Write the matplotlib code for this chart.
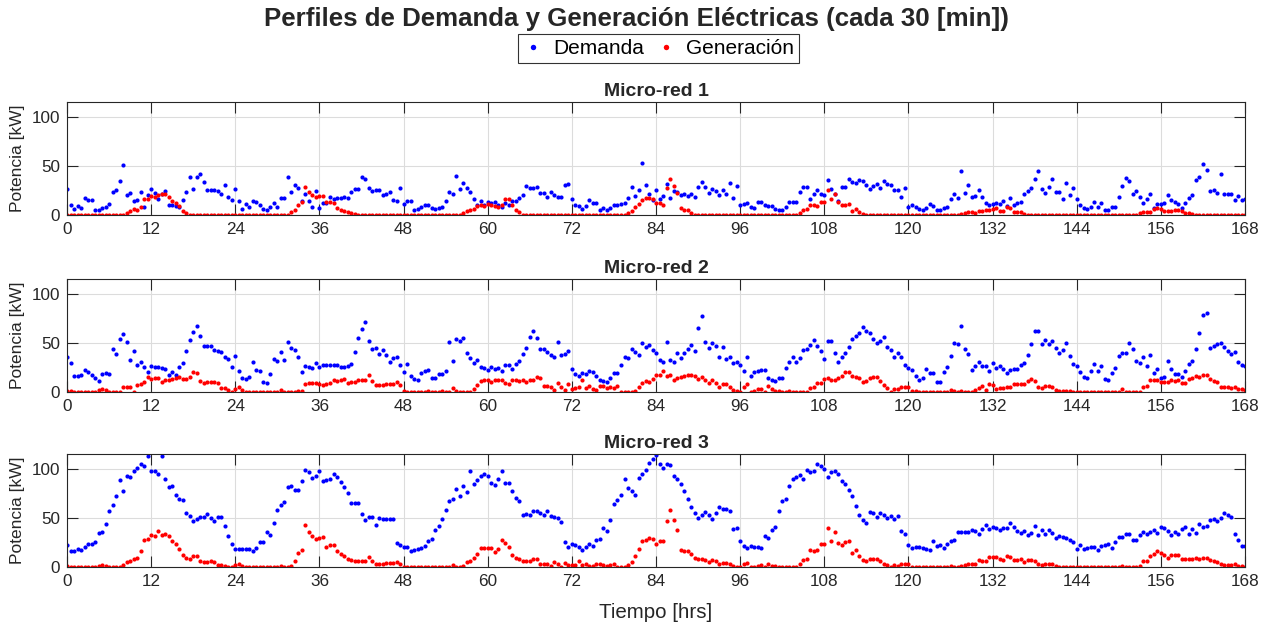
import numpy as np
import matplotlib
matplotlib.use("Agg")
import matplotlib.pyplot as plt

# perfiles cada 30 min, 0 .. 168 hrs
# micro-red 1
dem_1 = [27, 10, 6.5, 9.6, 7, 17, 15, 15, 5, 5, 7, 8, 11, 23, 26, 35, 51, 20, 22, 14, 15, 23, 8.5, 20,
         27, 22, 16, 21, 25, 10, 10, 9, 8, 15, 23, 39, 27, 39, 42, 34, 26, 26, 26, 25, 21, 31, 18, 15,
         27, 14, 6, 11, 8, 14, 13, 10, 6, 5, 8, 12, 8, 17, 17, 39, 24, 31, 28, 14, 21, 14, 8, 25,
         7, 12, 12, 18, 16, 17, 17, 18, 17, 23, 27, 27, 39, 37, 28, 25, 26, 26, 20, 21, 23, 15, 14, 28,
         11, 14, 14, 5.5, 6.5, 8, 10, 10, 7.5, 6.5, 7.5, 8.5, 14, 24, 21, 40, 27, 33, 28, 24, 16, 10, 14, 10,
         13, 12, 13, 10, 8, 12, 10, 14, 14, 17, 20, 30, 28, 28, 29, 22, 22, 18, 23, 20, 18.5, 18, 31, 32,
         16, 10.6, 9, 6.5, 9, 15, 12, 12, 5, 7, 5, 7, 10, 10, 11, 12, 17, 29, 19.5, 26, 53, 31, 21, 15,
         26, 16, 19, 32, 17, 25, 24, 20, 21.5, 19, 21.5, 18.5, 29, 33.5, 29, 22.6, 27, 25, 20.5, 26, 21, 33, 17, 29.5,
         10, 11.6, 12, 8, 7, 13, 13, 10, 9, 9.6, 6, 5, 5, 8, 13, 13, 13, 23, 29, 28.4, 16, 21, 26, 21,
         20.5, 36, 27, 21, 14, 28.4, 28.4, 37, 34, 32.5, 36, 35, 30.5, 26.7, 30, 32, 27.4, 34.6, 32, 30.5, 25.7, 26, 18, 27.4,
         8, 10, 8, 6, 5, 7.5, 11.6, 9.6, 5, 5, 7.5, 8.5, 16, 21.6, 17, 45, 22, 30.5, 18, 19, 26, 18.5, 12, 10.6,
         11.6, 12.7, 11.6, 14, 9, 17, 10.6, 12, 13, 21, 25, 28, 37, 45, 27, 22, 28.4, 37, 23, 23, 16, 33, 20, 27.4,
         16, 10, 7, 6.5, 8, 13, 8.5, 12.7, 5, 5, 8, 8, 18, 30, 38, 35, 21.6, 25, 18, 12.7, 16.4, 21, 7.5, 11,
         11, 12, 20, 15, 13, 11, 7.5, 12.7, 17, 20, 36, 38.7, 51.7, 46, 24.7, 25.3, 22, 42, 21.6, 21.6, 21.6, 15, 19, 15.8, 16]
gen_1 = [0, 0, 0, 0, 0, 0, 0, 0, 0, 0, 0, 0, 0, 0, 0, 0, 0, 2, 4, 6.5, 5, 8.5, 16, 16,
         19.5, 18, 20.5, 21, 21, 18.5, 14, 12, 9, 4, 2, 0, 0, 0, 0, 0, 0, 0, 0, 0, 0, 0, 0, 0,
         0, 0, 0, 0, 0, 0, 0, 0, 0, 0, 0, 0, 0, 0, 0, 0, 3, 5, 10, 13, 29, 23, 20, 18,
         19.5, 19.5, 13, 13, 12, 7, 5, 4, 3, 2, 1, 0, 0, 0, 0, 0, 0, 0, 0, 0, 0, 0, 0, 0,
         0, 0, 0, 0, 0, 0, 0, 0, 0, 0, 0, 0, 0, 0, 0, 0, 0, 2, 4.5, 5.5, 6.5, 9, 10.6, 9,
         11, 10, 9, 8, 10, 16, 16, 10, 5, 3, 0, 0, 0, 0, 0, 0, 0, 0, 0, 0, 0, 0, 0, 0,
         0, 0, 0, 0, 0, 0, 0, 0, 0, 0, 0, 0, 0, 0, 0, 0, 2, 4.5, 8, 11, 15.5, 17, 17.5, 16,
         12, 12, 10, 28, 37, 30, 22.6, 7, 5, 5, 2, 0, 0, 0, 0, 0, 0, 0, 0, 0, 0, 0, 0, 0,
         0, 0, 0, 0, 0, 0, 0, 0, 0, 0, 0, 0, 0, 0, 0, 0, 0, 2.4, 5.5, 6, 10.6, 10, 9, 13,
         13, 26, 16, 21, 13, 10, 10, 11, 4, 6, 3, 1, 0, 0, 0, 0, 0, 0, 0, 0, 0, 0, 0, 0,
         0, 0, 0, 0, 0, 0, 0, 0, 0, 0, 0, 0, 0, 0, 0, 1, 2, 3, 3, 2, 4, 4, 5, 5,
         6, 7, 4.5, 4, 8, 7, 3, 3, 3.5, 1.4, 0, 0, 0, 0, 0, 0, 0, 0, 0, 0, 0, 0, 0, 0,
         0, 0, 0, 0, 0, 0, 0, 0, 0, 0, 0, 0, 0, 0, 0, 0, 0, 0, 1.7, 3, 3, 3.5, 6, 7,
         6.5, 4.5, 4, 4.5, 5, 5, 4.5, 2, 1.7, 0.7, 0, 0, 0, 0, 0, 0, 0, 0, 0, 0, 0, 0, 0, 0, 0]

# micro-red 2
dem_2 = [35.5, 29.7, 16.4, 16.7, 17.7, 22, 20.5, 17.4, 14.3, 11.6, 18.8, 19.5, 18.8, 43.7, 38.6, 54, 59.7, 50.7, 32.4, 42.3, 28, 31, 25.3, 20,
         27, 26, 26, 25, 24, 17.7, 20.5, 17.4, 25.6, 30, 41.6, 53.6, 61.8, 67, 57.3, 46.8, 46.8, 46.8, 42.7, 42.3, 41.3, 36.2, 33.8, 26,
         36.5, 21.8, 14, 13.7, 15, 30.4, 22.5, 21.5, 10, 9.6, 18.8, 34, 31.4, 40.6, 32.8, 51.5, 45.4, 43, 35.5, 20.8, 27, 26, 24.6, 29.7,
         26, 27.6, 27.6, 27.6, 27.6, 27.6, 25.6, 25.6, 26.3, 28.3, 40.6, 55.6, 64, 72, 52.6, 44.4, 44.7, 39, 43, 37.5, 30.4, 35, 36.2, 27.6,
         20.5, 29, 16.7, 13.6, 12, 19, 21.8, 22, 14, 14, 18, 18.8, 21, 51, 31.4, 54, 52, 55.6, 40, 35, 29.4, 32.8, 26, 25,
         23, 26, 24, 25, 21, 27.6, 27.6, 23.5, 29, 32, 39, 45.4, 56, 62.5, 55.3, 44.4, 44, 41.3, 37.5, 36.2, 51, 38, 39, 41.6,
         23.5, 18, 16.7, 19, 18.4, 21.8, 20, 16, 12, 11.6, 10, 14.7, 19.8, 19.8, 27.6, 35.8, 34.5, 44, 41, 38, 50.5, 45.7, 48.5, 43,
         40.3, 32.4, 30.7, 51.5, 33, 30.4, 40, 35, 40.3, 44.4, 48.5, 42.3, 65, 78, 51, 44.7, 50, 47, 36.2, 45.7, 34, 36.2, 29.4, 30.7,
         27.6, 21.5, 35.5, 16.4, 20, 21.8, 22.8, 22.5, 14.7, 12, 11.3, 14.7, 14.7, 24.6, 30.7, 35.8, 30.4, 34.5, 43, 44.4, 47.8, 53, 46.8, 42,
         34, 52, 52, 40, 31, 35.5, 39.6, 45.7, 54, 57.7, 60.8, 66, 62.8, 60.8, 54, 50.5, 52.6, 56, 46, 42.7, 36.2, 40.3, 35.5, 27.3,
         24.2, 22.5, 16, 12.6, 14, 23.5, 19.8, 19.8, 10.2, 10.2, 20.5, 25.3, 36.9, 50, 48.8, 67, 44, 39.2, 22.2, 26.3, 31, 27, 26.6, 21,
         29.7, 25, 26.3, 23.5, 19.5, 22.9, 23.2, 24, 27.6, 30, 37.5, 49, 62, 62.8, 49.5, 53.6, 48.8, 52.2, 45, 39.6, 43.3, 50, 36.9, 29,
         26.3, 20.5, 15.4, 14, 21.5, 28.3, 21.8, 26.3, 13, 12.6, 19.5, 24.2, 36.9, 40, 39.6, 49.8, 43.7, 31.7, 29.4, 36.2, 27, 38.2, 19.8, 24,
         14.3, 15, 31.7, 23.2, 18.8, 18, 15, 21, 28.3, 31.4, 44, 60.4, 78.5, 81.2, 44.7, 47, 49, 50.5, 46.4, 42, 38.6, 40.6, 31, 27.6, 27]
gen_2 = [1, 1.4, 0, 0, 0, 0, 0, 0, 0, 1.7, 3.4, 2, 0, 0, 0, 0.3, 4.8, 5, 5.5, 0.3, 7, 8.5, 10, 15,
         13.6, 14, 14.3, 10, 12, 12.3, 13.6, 14, 15, 13.3, 13, 15.4, 20.5, 19, 11.3, 9.6, 10.2, 10.6, 10.2, 9.2, 4.4, 4.4, 1.7, 0,
         3.4, 5, 2.4, 0, 0, 0, 0, 0, 0, 0, 0, 0, 0, 2, 0, 0, 0, 0, 1.4, 1, 8, 9.6, 9.6, 9.6,
         8.5, 7.5, 8, 8.9, 12, 11.3, 12.3, 13, 9.6, 10, 10.2, 12.3, 12, 12, 17, 11.6, 6.8, 6.8, 6.8, 7.8, 7.8, 7.8, 10, 7.5,
         0.7, 0.3, 0, 0, 0, 0, 0, 1.4, 0, 0, 0.3, 1, 0, 0, 4.4, 1, 0, 0, 0, 0, 3.4, 7, 11.6, 12.3,
         12, 10.6, 12.6, 12.6, 12.6, 9.6, 8, 12.3, 12.3, 11.6, 12.3, 10.6, 12.3, 12.3, 15.4, 14.3, 6.5, 6, 5, 1.7, 9.2, 5, 1.7, 7.8,
         3, 3.7, 4.8, 12, 4.4, 6, 3, 2, 6, 6, 3.7, 5, 3.7, 6.5, 0, 0, 0, 0, 1, 4.8, 9, 11.5, 10, 13,
         17.4, 17.4, 21.5, 16.4, 17.7, 12, 14, 15.4, 16.7, 17, 17.7, 16.4, 13.6, 15.4, 12.3, 9.2, 12, 9.6, 4.8, 7.8, 7.8, 5.5, 2, 1,
         0, 5, 8.5, 0.3, 1, 3, 3.4, 0, 5.8, 3, 1.4, 1.4, 0, 0, 1, 0.3, 0, 0, 0, 0, 4.4, 5.5, 9.6, 9.2,
         13, 14.3, 12.6, 12.6, 14, 16.7, 20.5, 20.5, 16.4, 15, 14.7, 10.2, 11, 14.7, 15.4, 15, 11, 7.5, 4.4, 0.3, 2.7, 3, 5.5, 5,
         5, 1.4, 1, 0, 0, 0, 0, 0, 0, 0, 0, 0, 2.4, 0.7, 0, 0.7, 0, 0, 0, 1.7, 4, 5.8, 1.7, 8,
         7.5, 3, 4, 3.7, 4.8, 5.5, 7.8, 7.8, 7.8, 7.8, 11.6, 13, 11.3, 5.5, 3.7, 6.5, 5.8, 5.5, 1.7, 1, 1, 1, 1, 0,
         0, 0, 0, 0, 0, 0, 0, 0, 0, 0, 0, 0, 0, 2.7, 0, 0, 0, 0, 0, 5, 6.5, 12.6, 12.3, 12,
         10.2, 10.2, 10.6, 12.6, 11.3, 12.3, 9.6, 9.6, 13.6, 14.3, 16.7, 15.4, 17.4, 17.4, 13, 11.3, 10.6, 5.5, 4.8, 4.8, 4, 5, 2.7, 2.7, 2]

# micro-red 3
dem_3 = [22.8, 15.9, 15.9, 18.6, 17.2, 20.7, 24, 24, 25.9, 35, 36, 44, 57.6, 63.8, 72.8, 89.3, 77.9, 93, 92.4, 98.6, 101.7, 105, 103.4, 113.4,
         98.3, 98.3, 95.5, 113.8, 90, 81.4, 82.4, 73.4, 69.7, 68, 55.2, 52.4, 47.2, 49.3, 51, 51.4, 53.8, 50.3, 47.2, 51.4, 51, 42.4, 31.7, 23,
         18.3, 18.3, 18, 18.6, 18.3, 16.6, 19.3, 25.5, 25.5, 35.9, 32.4, 44.8, 58.3, 63.4, 66.6, 82, 82.8, 78.6, 78.6, 87.6, 99.3, 96.9, 90.7, 93,
         98.3, 87.6, 88.6, 89.7, 95.2, 91.7, 86.9, 81.4, 75.9, 65.5, 65.5, 65.5, 54.1, 47.6, 51.4, 51.4, 43.4, 49.7, 48.6, 48.6, 48.6, 48.6, 24.8, 22.4,
         20.7, 20.7, 16.6, 16.9, 18.6, 19.3, 21.4, 26.2, 28.6, 37.9, 41.4, 48.6, 57.9, 67.9, 69, 80, 72.8, 83.1, 76.6, 98.6, 85.2, 89, 93.1, 95.2,
         92.8, 86.2, 83.4, 90.3, 98.3, 86.2, 86.2, 77.2, 70.3, 67.2, 52.8, 54.1, 53.1, 56.9, 56.9, 55.5, 53.1, 57.2, 51.7, 50.7, 50, 46.2, 25.2, 20.7,
         23.1, 22.4, 20, 17.2, 20.3, 23.1, 21, 27.9, 28.3, 40, 36.9, 47.9, 64.8, 68.3, 73.1, 90, 80.3, 77.9, 74.1, 91, 95.5, 99.3, 105.9, 110.3,
         114.5, 105.2, 101, 105.2, 104.1, 93.4, 89.7, 85.2, 77.2, 69.3, 61.4, 55.2, 49.7, 52.8, 56.6, 53.4, 49.3, 54.8, 61.7, 59.7, 59.7, 57.6, 38.6, 40,
         26.6, 21, 19.3, 21, 20, 20.3, 19.3, 31.7, 30, 38.3, 41, 56.9, 67.9, 69.7, 83.1, 89.7, 92, 94.1, 90, 99, 96.6, 98.3, 104.8, 103.4,
         100, 92, 96.9, 97.9, 95.2, 87.9, 84.8, 78.6, 72.4, 62, 53.4, 47.6, 44.5, 56.2, 54.8, 50.7, 55.2, 52.8, 50, 51.7, 49, 52.4, 37.2, 33.4,
         22.8, 19.7, 20.3, 20, 19.7, 18.3, 17.2, 26.6, 21, 22.4, 19.3, 23.4, 26.6, 27.6, 35.5, 36.2, 35.5, 35.9, 37.9, 36.9, 34.1, 39, 43.1, 39,
         41, 39.7, 37.9, 40.3, 40.3, 44.5, 41, 37.2, 34.8, 37.2, 33.1, 35.2, 42.1, 33.1, 37.6, 33.8, 37.6, 35.2, 30, 32.1, 30.3, 29.7, 27.6, 25.5,
         17.9, 22.1, 18.6, 19, 20, 20, 17.6, 21, 22.4, 23.1, 19.3, 25.2, 30.7, 30.7, 33.8, 34.1, 27.6, 27.6, 33.1, 35.5, 33.8, 35.5, 37.6, 34.5,
         41, 39.7, 36.9, 33.1, 35.5, 33.4, 38.6, 41, 34.1, 39.3, 34.5, 43.8, 40.7, 42.1, 47.6, 48.6, 47.2, 50.3, 55.2, 53.4, 50.7, 34.1, 27.9, 21, 21]
gen_3 = [0.7, 0.3, 0, 0, 0, 0, 0, 0, 0, 1, 1.7, 0.7, 0, 0, 0, 0, 2.4, 5.2, 6.2, 7.9, 9.7, 15.9, 27.6, 29,
         32.8, 31.4, 36.6, 32.4, 34.1, 31.4, 26.2, 23.4, 17.9, 12.4, 9.7, 8.6, 11.7, 11, 6.6, 5.5, 5.5, 5.9, 5.5, 2, 2, 0.7, 0, 0,
         2, 2.8, 1.4, 0, 0, 0, 0, 0, 0, 0, 0, 0, 0, 0.7, 0, 0, 1.4, 6.2, 13.8, 17.2, 43.4, 36.2, 31.7, 28.3,
         29.7, 31, 20.7, 22.4, 22.1, 16.2, 13.1, 11.7, 8.3, 7.2, 6.6, 6.6, 6.6, 6.6, 10, 6.6, 3.4, 3.4, 3.4, 4.1, 4.1, 4.1, 5.5, 3.4,
         0, 0, 0, 0, 0, 0, 0, 0, 0.3, 0, 0, 0, 0, 0, 2, 0.3, 0, 1.4, 4.8, 6.6, 9.7, 13.4, 19.7, 19.7,
         19.7, 19.7, 15.2, 18.3, 27.2, 24.8, 20.3, 12.1, 9.7, 7.9, 6.6, 6.6, 6.6, 8.6, 8.3, 3.4, 3.4, 3.4, 1, 5.2, 2.8, 0.3, 4.5, 1.7,
         1.7, 1.7, 6.6, 2.4, 3.1, 1.4, 1, 2.8, 2.8, 1.7, 1.4, 1.7, 3.1, 0, 0, 0.3, 1.7, 5.2, 11, 17.9, 26.4, 27.4, 29.3, 28.3,
         23.8, 26.6, 26.6, 47.2, 58.6, 47.6, 37.9, 17.6, 16.6, 15.9, 12.8, 9.3, 7.9, 8.6, 7.2, 5.2, 6.9, 5.9, 2.8, 4.1, 4.1, 3.1, 0.7, 0,
         0, 2.8, 4.5, 0, 0.3, 1.4, 1.7, 0, 2.8, 1.4, 1, 0.3, 0, 0, 0, 0, 0, 3.1, 6.9, 7.9, 16.9, 15.9, 17.6, 23.1,
         23.1, 40.3, 26.6, 35.9, 24.5, 22.4, 25.9, 26.9, 13.8, 16.9, 11.4, 6.9, 5.9, 8.6, 8.6, 8.6, 5.9, 3.4, 2.1, 0.3, 1.7, 1.4, 3.1, 3.1,
         2.8, 0.3, 0, 0, 0, 0, 0, 0, 0, 0, 0, 0, 0.7, 0, 0, 0.7, 1.7, 3.1, 3.4, 3.4, 7.2, 6.6, 5.9, 10.3,
         10.3, 10.3, 7.9, 6.9, 11, 10.7, 7.6, 6.9, 8.3, 5.5, 6.9, 7.2, 5.9, 2.8, 1.7, 3.1, 3.1, 2.8, 0.7, 0.3, 0.3, 0.3, 0.3, 0,
         0, 0, 0, 0, 0, 0, 0, 0, 0, 0, 0, 0, 0, 1.4, 0, 0, 0, 0, 1.4, 5.9, 6.6, 11, 13.1, 16.6,
         14.1, 12.1, 9.7, 12.1, 12.1, 12.1, 8.6, 8.3, 8.3, 8.3, 9.7, 7.9, 9.7, 9, 7.2, 6.2, 5.2, 2.8, 2.4, 2.1, 1.7, 2.8, 1.4, 0.7, 0.5]

titles = ["Micro-red 1", "Micro-red 2", "Micro-red 3"]
xticks = [0, 12, 24, 36, 48, 60, 72, 84, 96, 108, 120, 132, 144, 156, 168]
yticks = [0, 50, 100]

plt.rcParams['font.family'] = ['Liberation Sans', 'DejaVu Sans']
dark = '#262626'

hours = np.arange(len(dem_1)) * 0.5

fig = plt.figure(figsize=(12.77, 6.27), dpi=100)
bottoms = [0.6571, 0.3748, 0.0957]
series = [(dem_1, gen_1), (dem_2, gen_2), (dem_3, gen_3)]

axes = []
for k in range(3):
    ax = fig.add_axes([0.0525, bottoms[k], 0.9225, 0.1802])
    dem, gen = series[k]
    ax.plot(hours, dem, 'o', color=(0, 0, 1), ms=3.0, mew=0, label='Demanda')
    ax.plot(hours, gen, 'o', color=(1, 0, 0), ms=3.0, mew=0, label='Generación')
    ax.set_xlim(0, 168)
    ax.set_ylim(0, 115.5)
    ax.set_xticks(xticks)
    ax.set_yticks(yticks)
    ax.grid(True, color='#dcdcdc', lw=0.8)
    ax.set_axisbelow(True)
    ax.tick_params(direction='in', top=True, right=True, length=8, width=0.8,
                   labelsize=12.3, colors=dark, pad=5)
    for s in ax.spines.values():
        s.set_color(dark)
        s.set_linewidth(0.8)
    ax.set_title(titles[k], fontweight='bold', fontsize=14, color=dark, pad=4)
    ax.set_ylabel('Potencia [kW]', fontsize=12.5, color=dark, labelpad=5)
    axes.append(ax)

axes[2].set_xlabel('Tiempo [hrs]', fontsize=14.8, color=dark, labelpad=10)

fig.text(0.4985, 0.970, 'Perfiles de Demanda y Generación Eléctricas (cada 30 [min])',
         ha='center', va='center', fontsize=18.6, fontweight='bold', color=dark)

h, l = axes[0].get_legend_handles_labels()
leg = fig.legend(h, l, loc='center', bbox_to_anchor=(0.5155, 0.9226), ncol=2,
                 frameon=True, fancybox=False, edgecolor='black', fontsize=15,
                 markerscale=1.3, handlelength=1.0, handletextpad=0.45,
                 columnspacing=0.55, borderpad=0.25, borderaxespad=0)
leg.get_frame().set_linewidth(0.8)

fig.savefig('out.png', dpi=100)
